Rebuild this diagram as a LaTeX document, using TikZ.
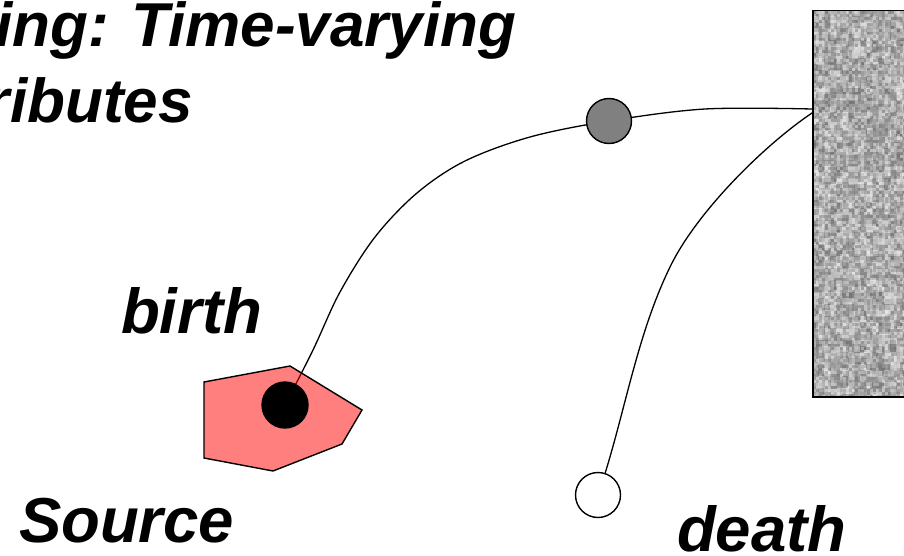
\documentclass[tikz,border=0pt]{standalone}
\usepackage{fontspec}
\setmainfont{Liberation Sans}
\begin{document}
\begin{tikzpicture}[x=1pt,y=-1pt,
  ttl/.style={font=\fontsize{62}{62}\selectfont\bfseries\itshape, anchor=base west, inner sep=0pt, outer sep=0pt},
  lbl/.style={font=\fontsize{63.5}{63.5}\selectfont\bfseries\itshape, anchor=base west, inner sep=0pt, outer sep=0pt},
  dotstyle/.style={circle, draw=black, line width=1.4pt, minimum size=45pt, inner sep=0pt},
  wire/.style={line width=1.3pt, line cap=round}]
\useasboundingbox (0,0) rectangle (904,556);
% textured block
\begin{scope}
  \clip (812,10) rectangle (904,396);
  \fill[black!30] (812,10) rectangle (904,396);
  \pgfmathsetseed{4711}
  \foreach \i in {0,...,15}{
    \foreach \j in {0,...,64}{
      \pgfmathsetmacro\gv{int(12+40*rnd)}
      \fill[black!\gv] (812+6*\i,10+6*\j) rectangle ++(6,6);
    }
  }
  \foreach \i in {0,...,30}{
    \foreach \j in {0,...,128}{
      \pgfmathsetmacro\gv{int(8+50*rnd)}
      \fill[black!\gv, opacity=0.5] (813+3*\i,11+3*\j) rectangle ++(3,3);
    }
  }
\end{scope}
\node[draw=black, line width=1.5pt, anchor=north west, minimum width=100pt, minimum height=386pt, inner sep=0pt] (block) at (812,10) {};
% coordinates
\coordinate (pb) at (285,405);
\coordinate (pg) at (609,121);
\coordinate (pw) at (598,495);
\coordinate (c1) at (313,350);
\coordinate (c2) at (340,292);
\coordinate (c3) at (375,237);
\coordinate (c4) at (417,193);
\coordinate (c5) at (465,161);
\coordinate (c6) at (530,137);
\coordinate (c7) at (705,109);
\coordinate (m2) at (670,267);
\coordinate (e1) at (812,109);
\coordinate (e2) at (812,113);
% wires
\draw[wire] plot[smooth, tension=0.55] coordinates {(pb) (c1) (c2) (c3) (c4) (c5) (c6) (pg) (c7) (e1)};
\draw[wire] (pw) .. controls (624,420) and (635,339) .. (m2)
  .. controls (696,213) and (763,146) .. (e2);
% source polygon
\draw[line width=1.4pt, fill=red, fill opacity=0.5, line join=miter] (204,382) -- (290,366) -- (362,410) -- (342,444) -- (273,471) -- (204,458) -- cycle;
% dots
\node[dotstyle, fill=black, minimum size=46pt] (bdot) at (pb) {};
\node[dotstyle, fill=black!50] (gdot) at (pg) {};
\node[dotstyle, fill=white] (wdot) at (pw) {};
% texts
\node[ttl] (t1) at (-5,47) {ing: Time-varying};
\node[ttl] (t2) at (-14,123) {ributes};
\node[lbl] (birth) at (121,333) {birth};
\node[lbl] (source) at (19,542) {Source};
\node[lbl] (death) at (677,551) {death};
\end{tikzpicture}
\end{document}
